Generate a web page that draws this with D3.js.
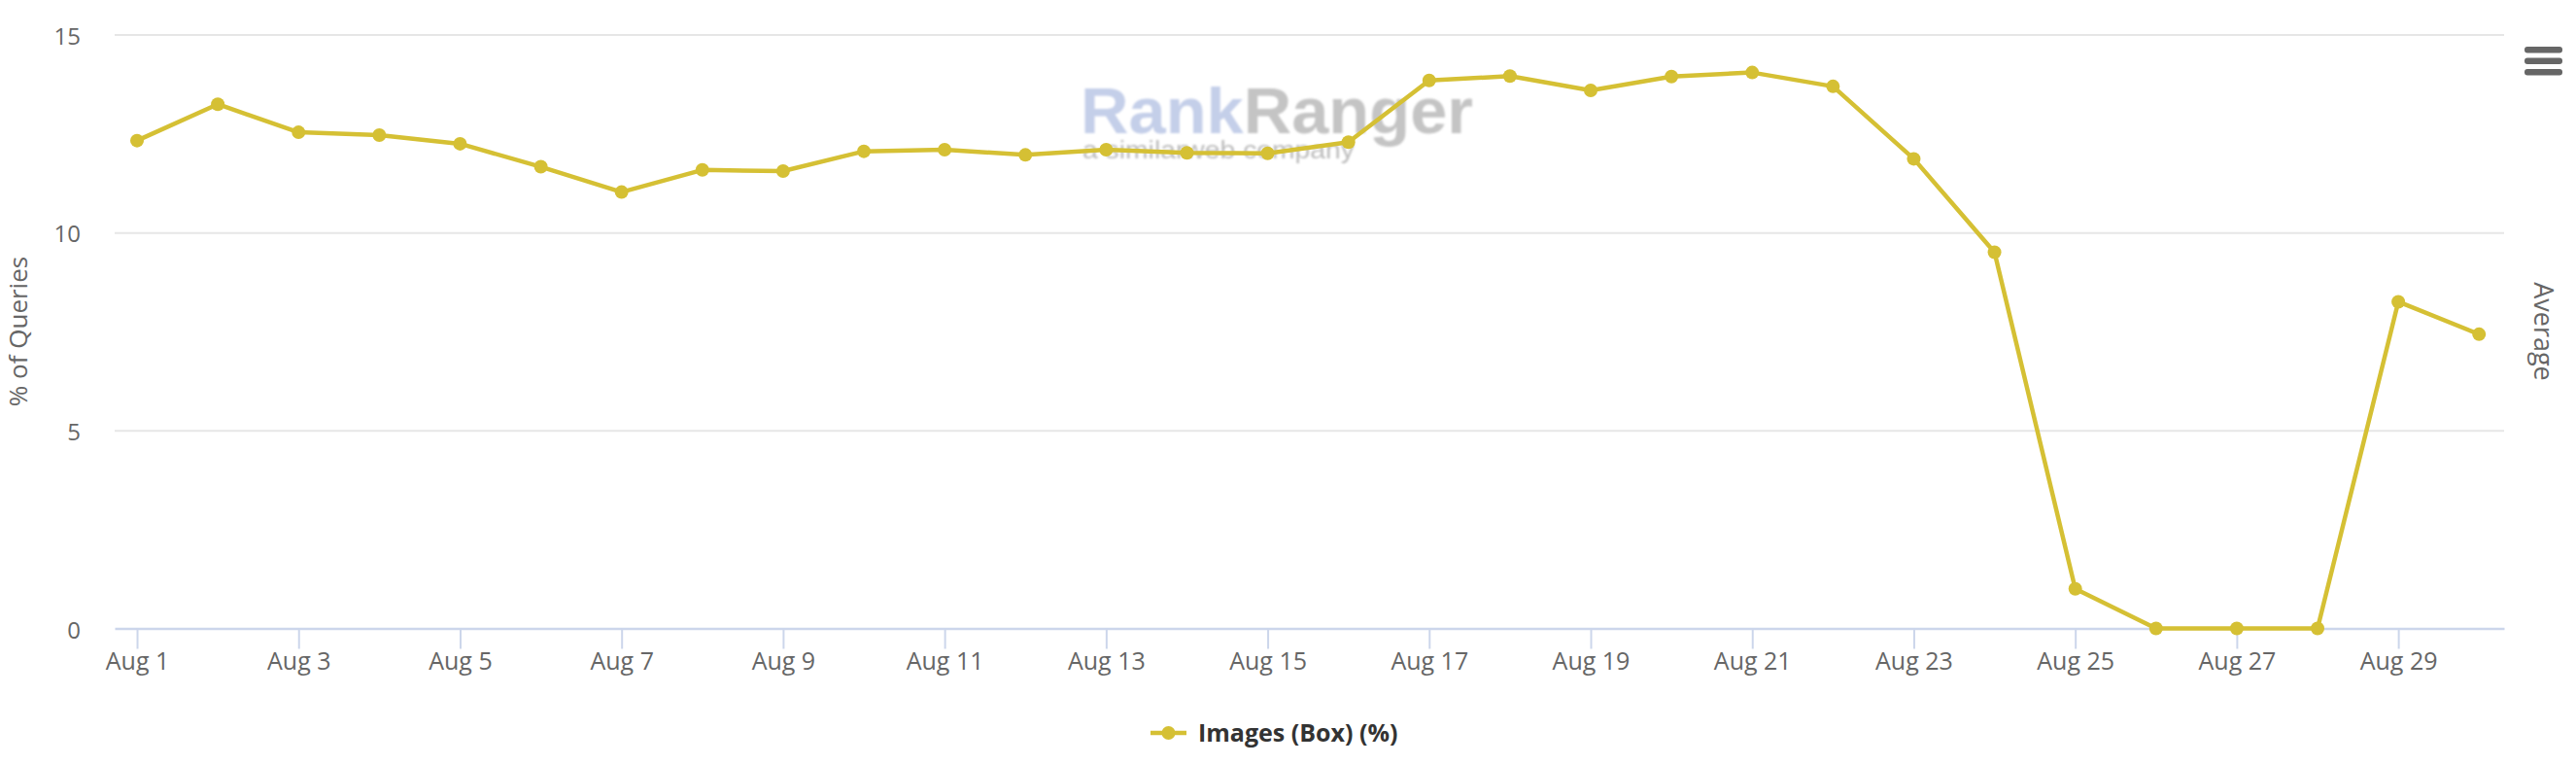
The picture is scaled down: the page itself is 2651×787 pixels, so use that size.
<!DOCTYPE html>
<html>
<head>
<meta charset="utf-8">
<script src="https://cdn.jsdelivr.net/npm/d3@7"></script>
<style>
  html, body { margin: 0; padding: 0; background: #ffffff; }
  svg { display: block; }
</style>
</head>
<body>
<svg id="chart" width="2651" height="787"></svg>
<script>
// ---- data ----
const dates = ["2023-08-01","2023-08-02","2023-08-03","2023-08-04","2023-08-05","2023-08-06","2023-08-07","2023-08-08","2023-08-09","2023-08-10",
               "2023-08-11","2023-08-12","2023-08-13","2023-08-14","2023-08-15","2023-08-16","2023-08-17","2023-08-18","2023-08-19","2023-08-20",
               "2023-08-21","2023-08-22","2023-08-23","2023-08-24","2023-08-25","2023-08-26","2023-08-27","2023-08-28","2023-08-29","2023-08-30"];
const imagesBox = [12.32, 13.24, 12.53, 12.46, 12.24, 11.66, 11.02, 11.58, 11.55, 12.05,
                   12.09, 11.96, 12.09, 12.01, 12.00, 12.28, 13.84, 13.95, 13.59, 13.94,
                   14.04, 13.69, 11.86, 9.50, 1.00, 0, 0, 0, 8.25, 7.43];
const yTicks = [0, 5, 10, 15];
const xTickDates = ["2023-08-01","2023-08-03","2023-08-05","2023-08-07","2023-08-09","2023-08-11","2023-08-13","2023-08-15",
                    "2023-08-17","2023-08-19","2023-08-21","2023-08-23","2023-08-25","2023-08-27","2023-08-29"];
const seriesName = "Images (Box) (%)";
const yTitle = "% of Queries";
const rightTitle = "Average";

// ---- layout ----
const parse = d3.timeParse("%Y-%m-%d");
const DAY = 86400000;
const plotLeft = 118, plotRight = 2577, plotTop = 35.5, plotBottom = 646.5;
const color = "#d5c034";
const font = "'Open Sans', sans-serif";

const points = dates.map((d, i) => ({ date: parse(d), value: imagesBox[i] }));
const first = points[0].date, last = points[points.length - 1].date;

const x = d3.scaleTime()
  .domain([new Date(+first - 0.277 * DAY), new Date(+last + 0.31 * DAY)])
  .range([plotLeft, plotRight]);
const y = d3.scaleLinear().domain([0, 15]).range([plotBottom, plotTop]);

const svg = d3.select("#chart");
svg.append("rect").attr("width", 2651).attr("height", 787).attr("fill", "#fff");

// watermark
const defs = svg.append("defs");
defs.append("filter").attr("id", "blur").append("feGaussianBlur").attr("stdDeviation", 0.9);
const wm = svg.append("g").attr("filter", "url(#blur)");
const wmText = wm.append("text")
  .attr("x", 1112).attr("y", 137)
  .attr("font-family", "'Liberation Sans', Arial, sans-serif")
  .attr("font-weight", "bold").attr("font-size", 66)
  .attr("textLength", 404).attr("lengthAdjust", "spacingAndGlyphs");
wmText.append("tspan").attr("fill", "#c4cfe9").text("Rank");
wmText.append("tspan").attr("fill", "#c4c4c4").text("Ranger");
wm.append("text")
  .attr("x", 1114).attr("y", 163)
  .attr("font-family", "'Liberation Sans', Arial, sans-serif")
  .attr("font-size", 25).attr("fill", "#bcbcbc")
  .attr("textLength", 280).attr("lengthAdjust", "spacingAndGlyphs")
  .text("a similarweb company");

// gridlines
const grid = svg.append("g").attr("transform", `translate(${plotLeft},0)`)
  .call(d3.axisLeft(y).tickValues(yTicks.filter(v => v !== 0)).tickSize(-(plotRight - plotLeft)).tickFormat(""));
grid.select(".domain").remove();
grid.selectAll("line").attr("stroke", "#e6e6e6").attr("stroke-width", 2);

// y labels
const yAxis = svg.append("g").attr("transform", `translate(${plotLeft},0)`)
  .call(d3.axisLeft(y).tickValues(yTicks).tickSize(0).tickPadding(35).tickFormat(d3.format("d")));
yAxis.select(".domain").remove();
yAxis.selectAll("text").attr("font-family", font).attr("font-size", 24).attr("fill", "#666666")
  .attr("dy", "0.4em");

// x axis
const xAxis = svg.append("g").attr("transform", `translate(0,${plotBottom})`)
  .call(d3.axisBottom(x).tickValues(xTickDates.map(parse)).tickSize(21).tickSizeOuter(0)
        .tickPadding(4).tickFormat(d3.timeFormat("%b %-d")));
xAxis.select(".domain").attr("stroke", "#ccd6eb").attr("stroke-width", 2.5);
xAxis.selectAll(".tick line").attr("stroke", "#ccd6eb").attr("stroke-width", 2);
xAxis.selectAll("text").attr("font-family", font).attr("font-size", 25).attr("fill", "#666666");

// axis titles
svg.append("text")
  .attr("transform", `translate(19,${(plotTop + plotBottom) / 2}) rotate(-90)`)
  .attr("text-anchor", "middle").attr("dy", "0.35em")
  .attr("font-family", font).attr("font-size", 26).attr("fill", "#666666")
  .text(yTitle);
svg.append("text")
  .attr("transform", `translate(2617,${(plotTop + plotBottom) / 2}) rotate(90)`)
  .attr("text-anchor", "middle").attr("dy", "0.35em")
  .attr("font-family", font).attr("font-size", 27).attr("fill", "#666666")
  .text(rightTitle);

// line
const line = d3.line().x(d => x(d.date)).y(d => y(d.value));
svg.append("path").datum(points)
  .attr("d", line).attr("fill", "none").attr("stroke", color)
  .attr("stroke-width", 4.5).attr("stroke-linejoin", "round").attr("stroke-linecap", "round");
svg.append("g").selectAll("circle").data(points).join("circle")
  .attr("cx", d => x(d.date)).attr("cy", d => y(d.value)).attr("r", 7).attr("fill", color);

// menu icon
const menu = svg.append("g");
[0, 1, 2].forEach(i => {
  menu.append("rect").attr("x", 2598).attr("y", 48 + i * 11.5).attr("width", 39).attr("height", 6.5)
    .attr("rx", 3).attr("fill", "#666666");
});

// legend
const lg = svg.append("g").attr("transform", "translate(1184,754)");
lg.append("line").attr("x1", 0).attr("x2", 37).attr("y1", 0).attr("y2", 0)
  .attr("stroke", color).attr("stroke-width", 4.5);
lg.append("circle").attr("cx", 18.5).attr("cy", 0).attr("r", 7).attr("fill", color);
lg.append("text").attr("x", 49).attr("y", 0).attr("dy", "0.35em")
  .attr("font-family", font).attr("font-weight", "bold").attr("font-size", 25).attr("fill", "#333333")
  .text(seriesName);
</script>
</body>
</html>
